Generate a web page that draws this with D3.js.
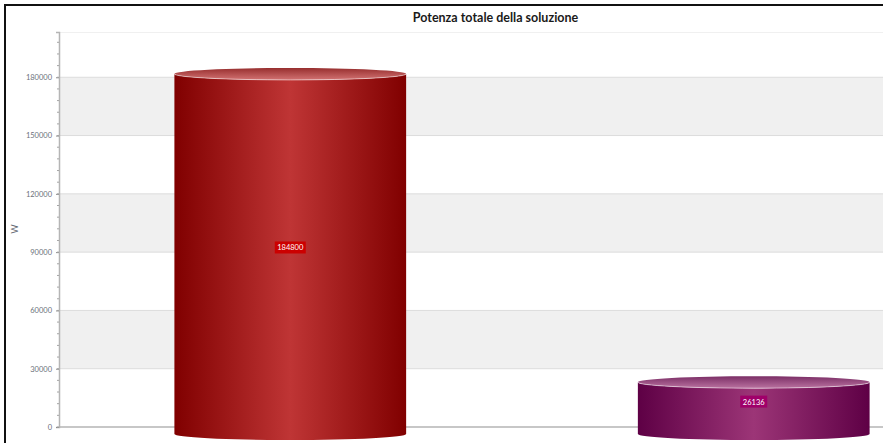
<!DOCTYPE html>
<html>
<head>
<meta charset="utf-8">
<script src="https://d3js.org/d3.v7.min.js"></script>
<style>
html,body{margin:0;padding:0;background:#fff;overflow:hidden}
svg{display:block}
</style>
</head>
<body>
<svg id="chart" width="883" height="443"></svg>
<script>
const categories = ["A", "B"];
const values = [184800, 26136];
const yTicks = [0, 30000, 60000, 90000, 120000, 150000, 180000];
const minorTicks = d3.range(0, 204000, 6000);
const bandStarts = [30000, 90000, 150000];
const yMax = 203300;
const chartTitle = "Potenza totale della soluzione";
const yTitle = "W";
const bodyColors = [["#800000", "#bf3535"], ["#5e0045", "#9c3577"]];
const labelColors = ["#cc0000", "#a0006a"];

const svg = d3.select("#chart");
const left = 59, top_ = 32, base = 427, right = 883;
const y = d3.scaleLinear().domain([0, yMax]).range([base, top_]);
const x = d3.scaleBand().domain(categories).range([left, 985]).paddingInner(0.5).paddingOuter(0.249);
const ry = 6, drop = 7;
const font = "Lato, 'Open Sans', sans-serif";

// Frame around the chart, open on the right and at the bottom
svg.append("path").attr("d", "M5,443V5H883").attr("fill", "none").attr("stroke", "#111").attr("stroke-width", 2);

svg.append("text").attr("x", 495.5).attr("y", 22).attr("text-anchor", "middle")
  .attr("font-family", font).attr("font-weight", 700).attr("font-size", 12.5).attr("fill", "#1a1a1a").text(chartTitle);

// Alternating bands and grid
svg.append("g").selectAll("rect").data(bandStarts).join("rect")
  .attr("x", left).attr("width", right - left)
  .attr("y", d => y(d + 30000)).attr("height", d => y(d) - y(d + 30000)).attr("fill", "#f0f0f0");
svg.append("line").attr("x1", left).attr("x2", right).attr("y1", top_ + .5).attr("y2", top_ + .5).attr("stroke", "#f0f0f0");
svg.append("g").selectAll("line").data(yTicks.slice(1)).join("line")
  .attr("x1", left).attr("x2", right).attr("y1", d => y(d)).attr("y2", d => y(d)).attr("stroke", "#dcdcdc");

// Value axis
const axisG = svg.append("g").attr("transform", `translate(${left},0)`)
  .call(d3.axisLeft(y).tickValues(yTicks).tickSize(3).tickPadding(4).tickFormat(d3.format("d")));
axisG.select(".domain").attr("stroke", "#b5b5b5").attr("stroke-width", 1.5);
axisG.selectAll(".tick line").attr("stroke", "#8c8c8c");
axisG.selectAll("text").attr("font-family", font).attr("font-size", 7.5).attr("fill", "#6b717a");
axisG.append("g").selectAll("line").data(minorTicks).join("line")
  .attr("x1", -2).attr("x2", 0).attr("y1", d => y(d)).attr("y2", d => y(d)).attr("stroke", "#a5a5a5");
svg.append("line").attr("x1", left).attr("x2", right).attr("y1", base).attr("y2", base).attr("stroke", "#b5b5b5").attr("stroke-width", 1.5);

svg.append("text").attr("transform", "translate(18,229) rotate(-90)").attr("text-anchor", "middle")
  .attr("font-family", font).attr("font-size", 9).attr("fill", "#5f6670").text(yTitle);

// Gradients for the cylinder walls and lids
const defs = svg.append("defs");
bodyColors.forEach((c, i) => {
  const g = defs.append("linearGradient").attr("id", "wall" + i);
  g.append("stop").attr("offset", "0%").attr("stop-color", c[0]);
  g.append("stop").attr("offset", "50%").attr("stop-color", c[1]);
  g.append("stop").attr("offset", "100%").attr("stop-color", c[0]);
  const l = defs.append("linearGradient").attr("id", "lid" + i).attr("x1", 0).attr("x2", 0).attr("y1", 0).attr("y2", 1);
  l.append("stop").attr("offset", "0%").attr("stop-color", d3.interpolateRgb(c[0], "#fff")(0.18));
  l.append("stop").attr("offset", "100%").attr("stop-color", d3.interpolateRgb(c[1], "#fff")(0.3));
});

// Cylinders: the lid's upper edge sits at the value
const bars = svg.append("g").selectAll("g").data(values).join("g");
bars.append("path").attr("fill", (d, i) => `url(#wall${i})`).attr("d", (d, i) => {
  const a = x(categories[i]), w = x.bandwidth(), yc = y(d) + ry, yb = base + drop;
  return `M${a},${yc}A${w / 2},${ry} 0 0 0 ${a + w},${yc}V${yb}A${w / 2},${ry} 0 0 1 ${a},${yb}Z`;
});
bars.append("ellipse").attr("cx", (d, i) => x(categories[i]) + x.bandwidth() / 2).attr("cy", d => y(d) + ry)
  .attr("rx", x.bandwidth() / 2).attr("ry", ry).attr("fill", (d, i) => `url(#lid${i})`);
bars.append("path").attr("fill", "none").attr("stroke", "#fff").attr("stroke-opacity", .5).attr("d", (d, i) => {
  const a = x(categories[i]), w = x.bandwidth(), yc = y(d) + ry;
  return `M${a},${yc}A${w / 2},${ry} 0 0 0 ${a + w},${yc}`;
});

// Value labels centred on the span from the baseline to the value
const labelY = d => (y(d) + base) / 2;
const labelWidths = [31, 27];
bars.append("rect").attr("x", (d, i) => x(categories[i]) + x.bandwidth() / 2 - labelWidths[i] / 2)
  .attr("y", d => labelY(d) - 6).attr("width", (d, i) => labelWidths[i]).attr("height", 12)
  .attr("fill", (d, i) => labelColors[i]);
bars.append("text").attr("x", (d, i) => x(categories[i]) + x.bandwidth() / 2).attr("y", d => labelY(d) + 3)
  .attr("text-anchor", "middle").attr("font-family", font).attr("font-size", 7.5).attr("fill", "#fff").text(d => d);
</script>
</body>
</html>
